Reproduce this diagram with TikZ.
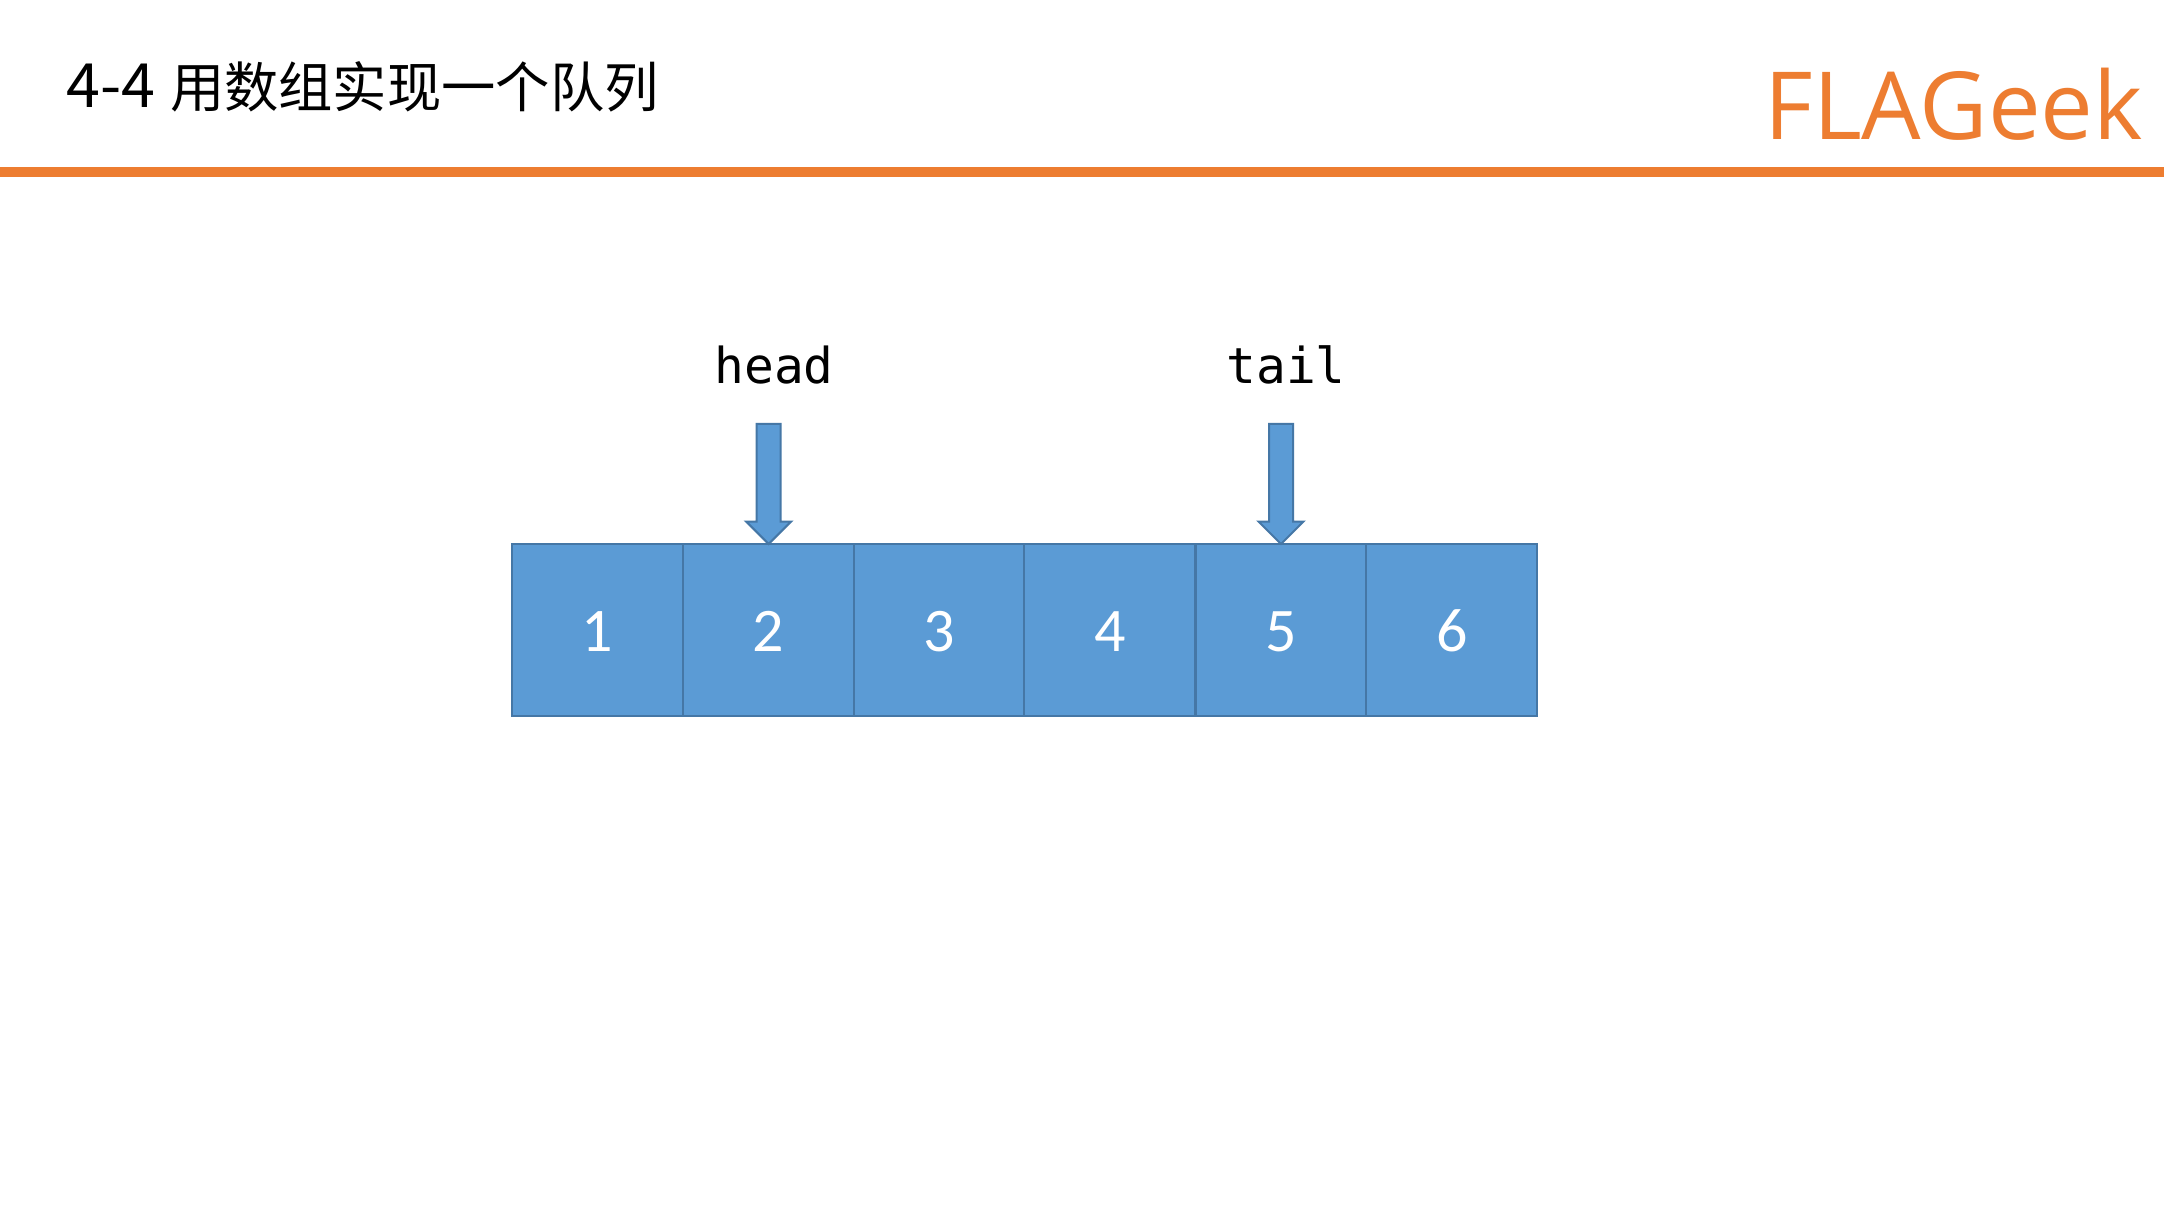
\documentclass[tikz,border=0pt]{standalone}
\usepackage{fontspec}
\setmainfont{Open Sans}
\newfontfamily\cjkfont{Noto Sans CJK SC}
\newfontfamily\monofont{DejaVu Sans Mono}
\newfontfamily\digitfont{Carlito}
\definecolor{cellfill}{HTML}{5B9BD5}
\definecolor{cellline}{HTML}{4577A6}
\definecolor{brand}{HTML}{ED7D31}
\tikzset{
  x=1pt,y=-1pt,
  cell/.style={draw=cellline,fill=cellfill,line width=2pt,minimum width=171pt,minimum height=172pt,inner sep=0pt,outer sep=0pt,text=white,text height=43pt,text depth=0pt,font=\digitfont\fontsize{62}{62}\selectfont},
  blockarrow/.style={draw=cellline,fill=cellfill,line width=2pt,line join=miter},
  pointer/.style={inner sep=0pt,anchor=base,font=\monofont\fontsize{49.5}{49.5}\selectfont},
}
\begin{document}
\begin{tikzpicture}
\useasboundingbox (0,0) rectangle (2164,1214);
\fill[white] (0,0) rectangle (2164,1214);
\fill[brand] (0,167.5) rectangle (2164,177);
\node[anchor=base west,inner sep=0pt,font=\cjkfont\fontsize{54.3}{54.3}\selectfont] (title) at (66,108) {{\fontsize{61}{61}\selectfont 4-4}\hspace{15pt}用数组实现一个队列};
\node[anchor=base east,inner sep=0pt,text=brand,font=\fontsize{94}{94}\selectfont] (brandname) at (2143,140) {FLAGeek};
\foreach \i/\cx in {1/597.1,2/768.6,3/939.3,4/1109.8,5/1281,6/1451.8}{
  \node[cell] (c\i) at (\cx,630) {\i};
}
\foreach \c in {c2,c5}{
  \draw[blockarrow,shift={(\c.north)}] (0,0) -- (-22.5,-22.5) -- (-12,-22.5) -- (-12,-120) -- (12,-120) -- (12,-22.5) -- (22.5,-22.5) -- cycle;
}
\node[pointer] (head) at (774,383.5) {head};
\node[pointer] (tail) at (1286,383.5) {tail};
\end{tikzpicture}
\end{document}
